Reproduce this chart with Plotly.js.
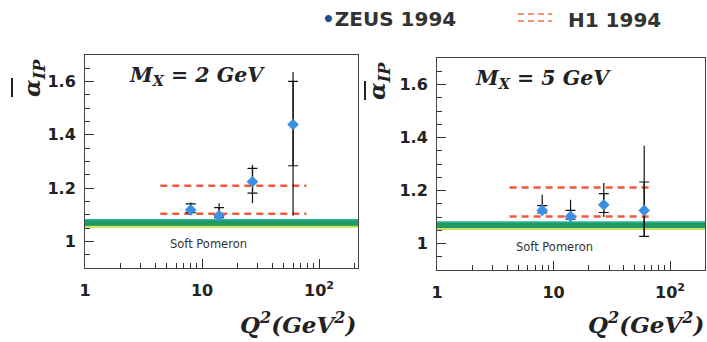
<!DOCTYPE html>
<html><head><meta charset="utf-8">
<script src="https://cdn.plot.ly/plotly-3.0.1.min.js"></script>
<style>html,body{margin:0;padding:0;background:#fff}#chart{width:707px;height:342px}</style>
</head><body><div id="chart"></div>
<script>
// ---- data ----
const q2 = [8, 14, 27, 60];
// M_X = 2 GeV
const alpha2 = [1.118, 1.097, 1.224, 1.439];
const statUp2 = [0.023, 0.030, 0.050, 0.162];
const statDn2 = [0.010, 0.008, 0.043, 0.155];
const totUp2 = [0.028, 0.046, 0.063, 0.197];
const totDn2 = [0.018, 0.010, 0.081, 0.342];
// M_X = 5 GeV
const alpha5 = [1.125, 1.102, 1.146, 1.125];
const statUp5 = [0.018, 0.023, 0.042, 0.107];
const statDn5 = [0.010, 0.010, 0.029, 0.098];
const totUp5 = [0.059, 0.063, 0.082, 0.244];
const totDn5 = [0.016, 0.015, 0.046, 0.098];
// H1 1994 band (Q2 range and alpha values)
const h1Q2_2 = [4.4, 78];
const h1Alpha2 = [1.104, 1.209];
const h1Q2_5 = [4.2, 70];
const h1Alpha5 = [1.102, 1.211];
// Soft pomeron band
const pomQ2 = [1, 250];
const pomLow = 1.055;
const pomHigh = 1.081;
const xTickVals = [1, 10, 100];
const xTickText = ['1', '10', '10<sup>2</sup>'];
const yTickVals = [1, 1.2, 1.4, 1.6];
const yTickText = ['1', '1.2', '1.4', '1.6'];

// ---- layout helpers ----
const W = 707, H = 342;
const px = x => x / W;
const py = y => 1 - y / H;

const tickFont = {family: 'DejaVu Sans', size: 16, weight: 'bold', color: '#222'};

function xAxis(d0, d1, anchor, r1) {
  return {
    type: 'log', range: [0, r1], domain: [px(d0), px(d1)], anchor: anchor,
    showline: true, mirror: true, linecolor: '#444', linewidth: 1,
    ticks: 'inside', ticklen: 9, tickcolor: '#333', tickwidth: 1,
    tickvals: xTickVals, ticktext: xTickText, tickfont: tickFont,
    ticklabelstandoff: 8,
    minor: {ticks: 'inside', ticklen: 5, dtick: 'D1', tickcolor: '#333', showgrid: false},
    showgrid: false, zeroline: false
  };
}
function yAxis(top, bottom, anchor) {
  return {
    range: [0.9, 1.7], domain: [py(bottom), py(top)], anchor: anchor,
    showline: true, mirror: true, linecolor: '#444', linewidth: 1,
    ticks: 'inside', ticklen: 9, tickcolor: '#333', tickwidth: 1,
    tickvals: yTickVals, ticktext: yTickText, tickfont: tickFont,
    ticklabelstandoff: 5,
    minor: {ticks: 'inside', ticklen: 5, dtick: 0.05, tick0: 0.9, tickcolor: '#333', showgrid: false},
    showgrid: false, zeroline: false
  };
}

function panelTraces(xa, ya, alpha, sU, sD, tU, tD, h1Q, h1A) {
  const tr = [];
  tr.push({x: pomQ2, y: [pomLow, pomLow], xaxis: xa, yaxis: ya, mode: 'lines',
    line: {color: '#c8e05a', width: 2}, hoverinfo: 'skip', showlegend: false});
  tr.push({x: pomQ2, y: [pomHigh, pomHigh], xaxis: xa, yaxis: ya, mode: 'lines', fill: 'tonexty',
    fillcolor: '#1c9a62', line: {color: '#2bb3a0', width: 1.5}, hoverinfo: 'skip', showlegend: false});
  h1A.forEach(a => {
    tr.push({x: h1Q, y: [a, a], xaxis: xa, yaxis: ya, mode: 'lines',
      line: {color: '#f2583e', width: 2.5, dash: '7px,5px'}, showlegend: false});
  });
  tr.push({x: q2, y: alpha, xaxis: xa, yaxis: ya, mode: 'markers',
    marker: {color: 'rgba(0,0,0,0)', size: 1},
    error_y: {type: 'data', symmetric: false, array: tU, arrayminus: tD, color: '#111', thickness: 1.2, width: 0},
    showlegend: false});
  tr.push({x: q2, y: alpha, xaxis: xa, yaxis: ya, mode: 'markers',
    marker: {color: '#3d8fe3', size: 9, symbol: 'diamond'},
    error_y: {type: 'data', symmetric: false, array: sU, arrayminus: sD, color: '#111', thickness: 1.2, width: 5},
    showlegend: false});
  return tr;
}

const data = [].concat(
  panelTraces('x', 'y', alpha2, statUp2, statDn2, totUp2, totDn2, h1Q2_2, h1Alpha2),
  panelTraces('x2', 'y2', alpha5, statUp5, statDn5, totUp5, totDn5, h1Q2_5, h1Alpha5)
);

const serifBI = (size) => ({family: 'DejaVu Serif', size: size, weight: 'bold', style: 'italic', color: '#222'});

const ann = [];
function panelAnn(xOff, yOff, label, xEnd) {
  ann.push({xref: 'paper', yref: 'paper', x: px(127 + xOff), y: py(76 + yOff), xanchor: 'left', yanchor: 'middle',
    text: label, showarrow: false, font: serifBI(20.5)});
  ann.push({xref: 'paper', yref: 'paper', x: px(208 + xOff), y: py(244 + yOff), xanchor: 'center', yanchor: 'middle',
    text: 'Soft Pomeron', showarrow: false, font: {family: 'DejaVu Sans', size: 11.5, color: '#333'}});
  ann.push({xref: 'paper', yref: 'paper', x: px(xEnd), y: py(323), xanchor: 'right', yanchor: 'middle',
    text: 'Q<sup>2</sup>(GeV<sup>2</sup>)', showarrow: false, font: serifBI(23)});
  ann.push({xref: 'paper', yref: 'paper', x: px(33 + xOff), y: py(78 + yOff), xanchor: 'center', yanchor: 'middle',
    text: 'α<sub>IP</sub>', textangle: -90, showarrow: false, font: serifBI(23)});
}
panelAnn(0, 0, 'M<sub>X</sub> = 2 GeV', 358);
panelAnn(346, 3, 'M<sub>X</sub> = 5 GeV', 706);

ann.push({xref: 'paper', yref: 'paper', x: px(320), y: py(19), xanchor: 'left', yanchor: 'middle',
  text: '<span style="color:#1f4f8a">•</span>ZEUS 1994', showarrow: false,
  font: {family: 'DejaVu Sans', size: 20, weight: 'bold', color: '#333'}});
ann.push({xref: 'paper', yref: 'paper', x: px(566), y: py(20), xanchor: 'left', yanchor: 'middle',
  text: 'H1 1994', showarrow: false,
  font: {family: 'DejaVu Sans', size: 20, weight: 'bold', color: '#333'}});

const shapes = [
  {type: 'line', xref: 'paper', yref: 'paper', x0: px(12), x1: px(12), y0: py(78), y1: py(97), line: {color: '#222', width: 2}},
  {type: 'line', xref: 'paper', yref: 'paper', x0: px(365), x1: px(365), y0: py(81), y1: py(100), line: {color: '#222', width: 2}},
  {type: 'line', xref: 'paper', yref: 'paper', x0: px(518), x1: px(552), y0: py(14), y1: py(14), line: {color: '#f7906e', width: 2, dash: '6px,4px'}},
  {type: 'line', xref: 'paper', yref: 'paper', x0: px(518), x1: px(552), y0: py(21), y1: py(21), line: {color: '#f7906e', width: 2, dash: '6px,4px'}}
];

const layout = {
  width: W, height: H, margin: {l: 0, r: 0, t: 0, b: 0},
  paper_bgcolor: '#fff', plot_bgcolor: '#fff', showlegend: false,
  xaxis: xAxis(85, 358, 'y', 2.333),
  yaxis: yAxis(55, 268, 'x'),
  xaxis2: xAxis(437, 705, 'y2', 2.30),
  yaxis2: yAxis(58, 270, 'x2'),
  annotations: ann, shapes: shapes
};

Plotly.newPlot('chart', data, layout, {displayModeBar: false, staticPlot: true});
</script></body></html>
